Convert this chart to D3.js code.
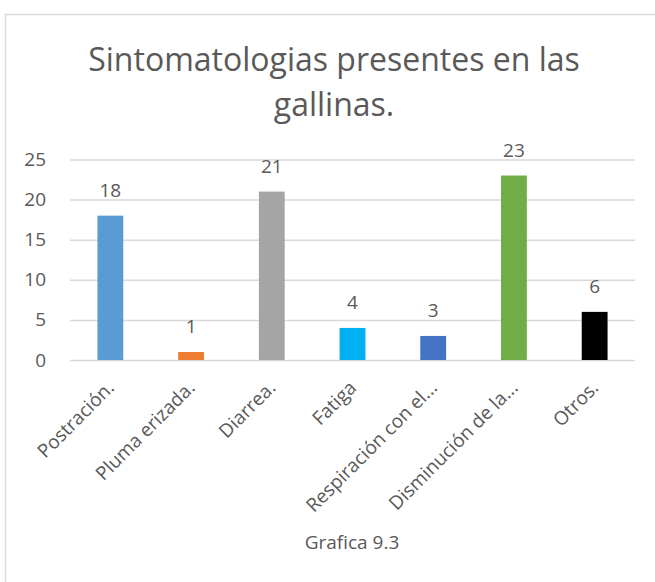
<!DOCTYPE html>
<html>
<head>
<meta charset="utf-8">
<script src="https://cdn.jsdelivr.net/npm/d3@7"></script>
<style>
  body { margin: 0; background: #fff; }
  text { font-family: "Open Sans", "Noto Sans", sans-serif; fill: #595959; }
</style>
</head>
<body>
<svg id="chart"></svg>
<script>
// Data
const categories = ["Postración.", "Pluma erizada.", "Diarrea.", "Fatiga",
    "Respiración con el...", "Disminución de la...", "Otros."];
const values = [18, 1, 21, 4, 3, 23, 6];
const barColors = ["#5B9BD5", "#ED7D31", "#A5A5A5", "#00B0F0", "#4472C4", "#70AD47", "#000000"];
const yTicks = [0, 5, 10, 15, 20, 25];
const titleLines = ["Sintomatologias presentes en las", "gallinas."];
const caption = "Grafica 9.3";

// Sizes
const width = 655;
const height = 582;
const plotLeft = 70;
const plotRight = 635;
const plotTop = 159.5;
const plotBottom = 360;

const svg = d3.select("#chart")
    .attr("width", width)
    .attr("height", height)
    .attr("viewBox", [0, 0, width, height]);

// Outer frame (runs off the right and bottom)
svg.append("rect")
    .attr("x", 5.5)
    .attr("y", 14.5)
    .attr("width", width + 20)
    .attr("height", height + 20)
    .attr("fill", "none")
    .attr("stroke", "#d9d9d9")
    .attr("stroke-width", 1.5);

// Title
svg.append("g")
  .selectAll("text")
  .data(titleLines)
  .join("text")
    .attr("x", 334)
    .attr("y", (d, i) => 71 + i * 45)
    .attr("text-anchor", "middle")
    .attr("font-size", 32)
    .text(d => d);

// Scales
const x = d3.scaleBand()
    .domain(categories)
    .range([plotLeft, plotRight])
    .paddingInner(0.68)
    .paddingOuter(0.34);

const y = d3.scaleLinear()
    .domain([0, 25])
    .range([plotBottom, plotTop]);

// Gridlines + y labels
svg.append("g")
    .attr("transform", `translate(${plotLeft},0)`)
    .call(d3.axisLeft(y).tickValues(yTicks).tickSize(-(plotRight - plotLeft)).tickPadding(24))
    .call(g => g.select(".domain").remove())
    .call(g => g.selectAll(".tick line").attr("stroke", "#d9d9d9").attr("stroke-width", 1.5))
    .call(g => g.selectAll(".tick text")
        .attr("font-size", 19)
        .attr("font-family", "'Open Sans', sans-serif")
        .attr("fill", "#595959"));

// Bars
svg.append("g")
  .selectAll("rect")
  .data(values)
  .join("rect")
    .attr("x", (d, i) => x(categories[i]))
    .attr("y", d => y(d))
    .attr("width", x.bandwidth())
    .attr("height", d => y(0) - y(d))
    .attr("fill", (d, i) => barColors[i]);

// Value labels
svg.append("g")
  .selectAll("text")
  .data(values)
  .join("text")
    .attr("x", (d, i) => x(categories[i]) + x.bandwidth() / 2)
    .attr("y", d => y(d) - 19)
    .attr("text-anchor", "middle")
    .attr("font-size", 19)
    .attr("fill", "#404040")
    .text(d => d);

// Category labels, rotated
svg.append("g")
  .selectAll("text")
  .data(categories)
  .join("text")
    .attr("transform", d => `translate(${x(d) + x.bandwidth() / 2 + 5},${plotBottom + 29}) rotate(-45)`)
    .attr("text-anchor", "end")
    .attr("font-size", 19)
    .text(d => d);

// Caption
svg.append("text")
    .attr("x", 352)
    .attr("y", 549)
    .attr("text-anchor", "middle")
    .attr("font-size", 19)
    .text(caption);
</script>
</body>
</html>
